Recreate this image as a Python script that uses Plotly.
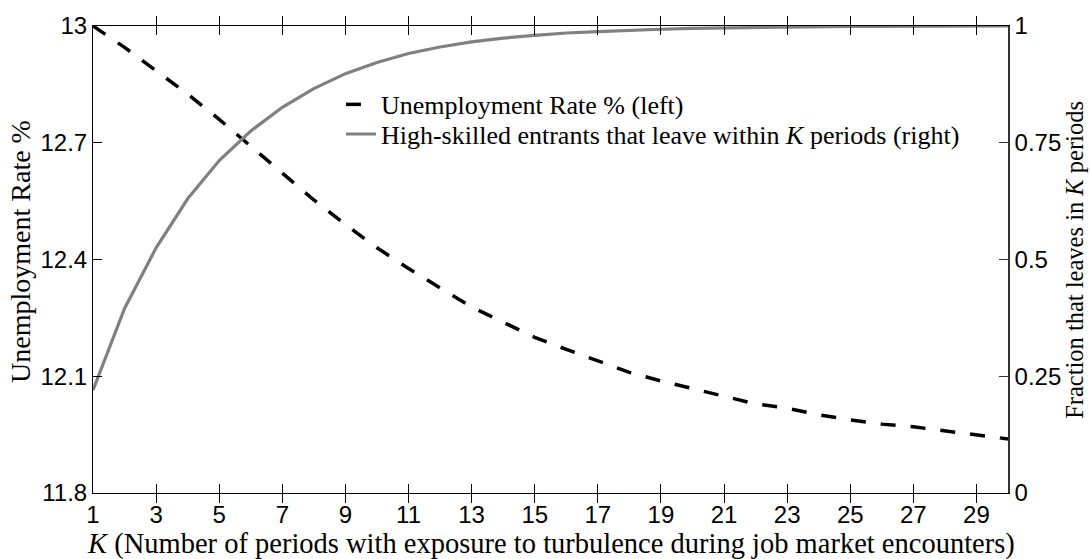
import plotly.graph_objects as go

K = list(range(1, 31))
unemployment = [13.000, 12.945, 12.885, 12.825, 12.760, 12.690, 12.622, 12.553, 12.490, 12.430,
                12.377, 12.327, 12.278, 12.239, 12.200, 12.169, 12.140, 12.110, 12.088, 12.068,
                12.048, 12.029, 12.018, 12.001, 11.988, 11.977, 11.970, 11.959, 11.949, 11.939]
fraction_leave = [0.220, 0.395, 0.525, 0.630, 0.712, 0.775, 0.826, 0.866, 0.898, 0.922,
                  0.941, 0.955, 0.966, 0.974, 0.980, 0.985, 0.988, 0.991, 0.993, 0.995,
                  0.996, 0.997, 0.998, 0.998, 0.999, 0.999, 0.999, 1.000, 1.000, 1.000]
x_ticks = list(range(1, 30, 2))
y_left_ticks = [11.8, 12.1, 12.4, 12.7, 13]
y_left_text = ["11.8", "12.1", "12.4", "12.7", "13"]
y_right_ticks = [0, 0.25, 0.5, 0.75, 1]
y_right_text = ["0", "0.25", "0.5", "0.75", "1"]

SERIF = "Liberation Serif, Times New Roman, serif"
SANS = "Liberation Sans, Arial, sans-serif"
TICKFONT = dict(family=SANS, size=24, color="black")

fig = go.Figure()
fig.add_trace(go.Scatter(
    x=K, y=unemployment, mode="lines", name="Unemployment Rate % (left)",
    line=dict(color="black", width=3.5, dash="15px,15px"), yaxis="y", legend="legend"))
fig.add_trace(go.Scatter(
    x=K, y=fraction_leave, mode="lines",
    name="High-skilled entrants that leave within <i>K</i> periods (right)",
    line=dict(color="#808080", width=3.2), yaxis="y2", legend="legend2"))

legend_common = dict(xanchor="left", yanchor="middle", bgcolor="rgba(0,0,0,0)",
                     borderwidth=0, font=dict(family=SERIF, size=26, color="black"),
                     itemwidth=30)

fig.update_layout(
    width=1090, height=559,
    margin=dict(l=93, r=82, t=17, b=66),
    paper_bgcolor="white", plot_bgcolor="white",
    showlegend=True,
    legend=dict(x=0.271, y=0.832, **legend_common),
    legend2=dict(x=0.271, y=0.7685, **legend_common),
    xaxis=dict(range=[1, 30], tickvals=x_ticks, ticks="inside", ticklen=9,
               tickcolor="black", showline=True, linecolor="black", linewidth=1,
               mirror="allticks", showgrid=False, zeroline=False, tickfont=TICKFONT),
    yaxis=dict(range=[11.8, 13], tickvals=y_left_ticks, ticktext=y_left_text,
               ticks="inside", ticklen=9, tickcolor="black", showline=True,
               linecolor="black", linewidth=1, showgrid=False, zeroline=False,
               tickfont=TICKFONT),
    yaxis2=dict(range=[0, 1], tickvals=y_right_ticks, ticktext=y_right_text,
                overlaying="y", side="right", ticks="inside", ticklen=9,
                tickcolor="#333", showline=True, linecolor="#333", linewidth=1.5,
                showgrid=False, zeroline=False, tickfont=TICKFONT),
    annotations=[
        dict(text="<i>K</i> (Number of periods with exposure to turbulence during job market encounters)",
             xref="paper", yref="paper", x=0.5, y=-0.109, xanchor="center", yanchor="middle",
             showarrow=False, font=dict(family=SERIF, size=28.5, color="black")),
        dict(text="Unemployment Rate %", xref="paper", yref="paper", x=-0.080, y=0.518,
             xanchor="center", yanchor="middle", textangle=-90, showarrow=False,
             font=dict(family=SERIF, size=28, color="black")),
        dict(text="Fraction that leaves in <i>K</i> periods", xref="paper", yref="paper",
             x=1.0725, y=0.5, xanchor="center", yanchor="middle", textangle=-90,
             showarrow=False, font=dict(family=SERIF, size=24.5, color="black")),
    ],
)

fig.write_html("out.html")
